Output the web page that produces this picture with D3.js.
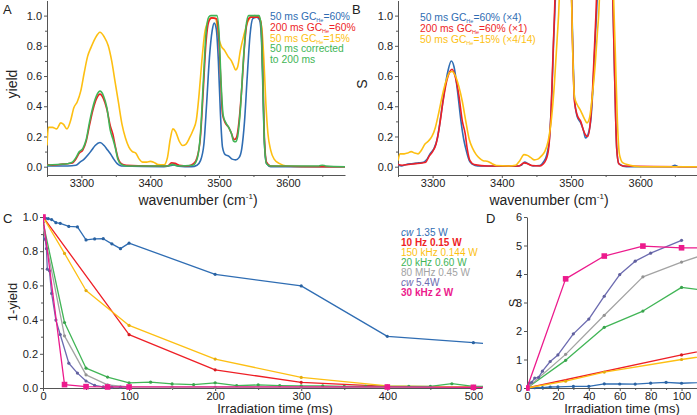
<!DOCTYPE html>
<html><head><meta charset="utf-8">
<script src="https://cdn.jsdelivr.net/npm/d3@7"></script>
<style>body{margin:0;background:#fff} text{font-family:"Liberation Sans",Arial,Helvetica,sans-serif}</style>
</head><body><svg id="c" width="697" height="415"></svg>
<script>
// ---------- DATA ----------
const colors = {blue:"#2f6db3", red:"#ee1f26", yellow:"#fdbf12", green:"#41b556", gray:"#a3a3a3", purple:"#6c6bb0", magenta:"#ec1a8c"};

// Panel A: yield vs wavenumber
const aYellow = [[3250,0.14],[3252,0.26],[3258,0.26],[3264,0.25],[3270,0.29],[3274,0.28],[3279,0.25],[3284,0.30],[3289,0.39],[3294,0.43],[3299,0.50],[3304,0.62],[3309,0.73],[3314,0.79],[3320,0.85],[3327,0.89],[3333,0.86],[3339,0.80],[3344,0.70],[3349,0.56],[3354,0.42],[3359,0.28],[3364,0.19],[3369,0.13],[3374,0.10],[3379,0.09],[3384,0.05],[3389,0.03],[3395,0.03],[3400,0.035],[3405,0.03],[3411,0.015],[3420,0.012],[3425,0.06],[3429,0.18],[3433,0.25],[3437,0.23],[3442,0.17],[3447,0.14],[3452,0.15],[3457,0.19],[3462,0.24],[3467,0.31],[3471,0.48],[3475,0.70],[3479,0.88],[3484,0.96],[3490,0.985],[3495,0.98],[3499,0.86],[3503,0.80],[3508,0.77],[3513,0.73],[3518,0.70],[3521,0.67],[3524,0.64],[3527,0.66],[3531,0.77],[3536,0.87],[3541,0.95],[3546,0.99],[3552,1.0],[3558,0.99],[3562,0.92],[3565,0.72],[3568,0.42],[3571,0.22],[3575,0.11],[3580,0.05],[3588,0.02],[3598,0.005],[3620,0.0],[3683,0.0]];
const aBlue = [[3250,0.005],[3280,0.005],[3292,0.01],[3298,0.03],[3304,0.05],[3310,0.08],[3315,0.11],[3320,0.14],[3327,0.16],[3333,0.14],[3338,0.11],[3343,0.08],[3347,0.05],[3352,0.02],[3358,0.005],[3420,0.0],[3430,0.008],[3435,0.012],[3441,0.004],[3460,0.0],[3468,0.01],[3473,0.04],[3478,0.15],[3482,0.42],[3486,0.72],[3490,0.90],[3493,0.95],[3496,0.91],[3499,0.70],[3502,0.35],[3505,0.13],[3509,0.08],[3514,0.07],[3519,0.05],[3524,0.045],[3529,0.06],[3533,0.12],[3537,0.30],[3541,0.60],[3545,0.87],[3549,0.98],[3555,0.99],[3559,0.97],[3562,0.80],[3564,0.45],[3566,0.15],[3569,0.02],[3575,0.0],[3683,0.0]];
const aRed = [[3250,0.015],[3258,0.01],[3268,0.015],[3280,0.02],[3287,0.025],[3292,0.05],[3297,0.09],[3302,0.11],[3307,0.17],[3312,0.28],[3317,0.38],[3322,0.45],[3327,0.48],[3332,0.45],[3337,0.38],[3342,0.27],[3346,0.21],[3349,0.14],[3353,0.06],[3358,0.02],[3365,0.01],[3400,0.005],[3425,0.005],[3431,0.025],[3436,0.022],[3442,0.01],[3455,0.005],[3463,0.02],[3468,0.06],[3473,0.20],[3477,0.50],[3481,0.82],[3485,0.96],[3489,0.985],[3496,0.98],[3499,0.90],[3502,0.62],[3505,0.35],[3509,0.29],[3514,0.26],[3518,0.22],[3522,0.18],[3525,0.19],[3529,0.30],[3533,0.52],[3537,0.80],[3541,0.96],[3546,0.99],[3557,0.99],[3561,0.95],[3564,0.55],[3566,0.18],[3569,0.03],[3575,0.005],[3683,0.0]];
const aGreen = [[3250,0.01],[3265,0.015],[3280,0.02],[3287,0.03],[3292,0.06],[3297,0.10],[3302,0.12],[3307,0.18],[3312,0.30],[3317,0.40],[3322,0.47],[3327,0.50],[3332,0.47],[3337,0.39],[3342,0.24],[3346,0.18],[3349,0.13],[3353,0.05],[3358,0.015],[3365,0.005],[3425,0.005],[3432,0.015],[3440,0.005],[3462,0.01],[3468,0.05],[3473,0.22],[3477,0.55],[3481,0.88],[3485,0.99],[3488,1.0],[3497,1.0],[3500,0.88],[3503,0.55],[3506,0.34],[3510,0.29],[3514,0.26],[3518,0.22],[3521,0.17],[3524,0.165],[3527,0.20],[3531,0.38],[3535,0.68],[3539,0.92],[3543,1.0],[3558,1.0],[3561,0.94],[3564,0.50],[3566,0.15],[3569,0.02],[3575,0.005],[3645,0.005],[3650,0.01],[3655,0.005],[3683,0.0]];

// Panel B: S vs wavenumber (scaled)
const bBlue = [[3250,0.01],[3255,0.005],[3262,0.015],[3270,0.02],[3280,0.025],[3287,0.03],[3292,0.05],[3297,0.09],[3302,0.12],[3307,0.19],[3312,0.34],[3317,0.50],[3322,0.63],[3327,0.70],[3331,0.66],[3336,0.50],[3341,0.30],[3345,0.18],[3349,0.10],[3353,0.04],[3358,0.015],[3365,0.005],[3420,0.003],[3428,0.01],[3433,0.03],[3438,0.02],[3445,0.005],[3455,0.008],[3460,0.03],[3465,0.08],[3469,0.2],[3472,0.45],[3475,0.85],[3478,1.2],[3481,1.8],[3498,1.8],[3500,1.3],[3502,0.9],[3505,0.45],[3509,0.33],[3514,0.29],[3518,0.24],[3521,0.19],[3525,0.22],[3529,0.33],[3532,0.55],[3535,0.85],[3538,1.15],[3541,1.8],[3557,1.8],[3560,1.2],[3563,0.6],[3566,0.12],[3569,0.02],[3580,0.0],[3645,0.0],[3650,0.01],[3655,0.0],[3682,0.0]];
const bRed = [[3250,0.015],[3256,0.01],[3265,0.015],[3275,0.02],[3285,0.025],[3290,0.03],[3295,0.07],[3300,0.10],[3305,0.15],[3310,0.27],[3315,0.43],[3320,0.56],[3325,0.63],[3328,0.645],[3333,0.59],[3338,0.47],[3343,0.30],[3347,0.22],[3350,0.12],[3354,0.04],[3360,0.015],[3380,0.005],[3425,0.005],[3432,0.025],[3437,0.02],[3443,0.008],[3455,0.005],[3462,0.03],[3467,0.10],[3471,0.35],[3474,0.75],[3477,1.15],[3480,1.8],[3498,1.8],[3500,1.3],[3502,0.85],[3505,0.43],[3509,0.34],[3514,0.30],[3518,0.24],[3521,0.21],[3524,0.20],[3528,0.30],[3531,0.50],[3534,0.80],[3537,1.15],[3540,1.8],[3557,1.8],[3560,1.2],[3563,0.6],[3566,0.12],[3569,0.02],[3575,0.005],[3682,0.0]];
const bYellow = [[3250,0.04],[3253,0.085],[3259,0.085],[3264,0.09],[3269,0.10],[3274,0.09],[3279,0.085],[3284,0.11],[3289,0.15],[3294,0.17],[3299,0.20],[3304,0.26],[3309,0.36],[3314,0.47],[3319,0.56],[3324,0.62],[3328,0.63],[3333,0.60],[3338,0.53],[3343,0.43],[3348,0.30],[3353,0.18],[3358,0.12],[3363,0.08],[3368,0.055],[3373,0.04],[3380,0.035],[3386,0.02],[3392,0.008],[3410,0.005],[3420,0.01],[3426,0.04],[3432,0.08],[3437,0.075],[3442,0.06],[3447,0.045],[3452,0.05],[3457,0.07],[3462,0.10],[3467,0.17],[3472,0.33],[3476,0.55],[3480,0.85],[3483,1.12],[3486,1.8],[3498,1.8],[3500,1.3],[3502,0.85],[3505,0.46],[3509,0.41],[3514,0.37],[3519,0.32],[3523,0.29],[3527,0.33],[3531,0.48],[3535,0.68],[3538,0.88],[3541,1.12],[3544,1.8],[3558,1.8],[3561,1.2],[3564,0.75],[3567,0.30],[3570,0.08],[3575,0.025],[3585,0.01],[3600,0.0],[3682,0.0]];

// Panel C: 1-yield vs irradiation time (ms)
const cBlue = [[0,1.0],[3,0.992],[6,0.99],[10,0.985],[15,0.967],[20,0.963],[30,0.945],[40,0.942],[50,0.866],[60,0.872],[70,0.873],[80,0.843],[90,0.815],[100,0.847],[200,0.665],[300,0.597],[400,0.302],[500,0.265],[520,0.258]];
const cRed = [[0,1.0],[100,0.312],[200,0.106],[300,0.033],[400,0.01],[500,0.006],[520,0.005]];
const cYellow = [[0,1.0],[25,0.787],[50,0.57],[100,0.366],[200,0.169],[300,0.062],[400,0.012],[500,0.005],[520,0.005]];
const cGreen = [[0,0.97],[25,0.383],[50,0.116],[75,0.064],[100,0.03],[125,0.034],[150,0.024],[175,0.02],[200,0.03],[225,0.014],[250,0.018],[275,0.014],[300,0.012],[325,0.012],[350,0.01],[375,0.01],[400,0.01],[425,0.01],[450,0.01],[475,0.025],[500,0.01],[520,0.008]];
const cGray = [[0,0.94],[25,0.305],[50,0.077],[75,0.018],[100,0.006],[150,0.005],[200,0.005],[300,0.004],[400,0.004],[500,0.004],[520,0.004]];
const cPurple = [[0,0.878],[2.5,0.87],[4,0.815],[5,0.695],[7.5,0.685],[10,0.553],[15,0.397],[20,0.313],[30,0.145],[40,0.087],[50,0.041],[60,0.015],[70,0.006],[80,0.005],[90,0.005],[100,0.005]];
const cMagenta = [[0,1.0],[25,0.02],[50,0.008],[75,0.006],[100,0.006],[400,0.006],[500,0.004],[520,0.004]];

// Panel D: S vs irradiation time (ms)
const dBlue = [[0,0],[5,0.01],[10,0.015],[15,0.035],[20,0.037],[30,0.055],[40,0.06],[50,0.145],[60,0.14],[70,0.136],[80,0.17],[90,0.2],[100,0.166],[200,0.41]];
const dRed = [[0,0],[100,1.16],[200,2.25]];
const dYellow = [[0,0],[25,0.24],[50,0.56],[100,1.0],[200,1.78]];
const dGreen = [[0,0],[25,0.97],[50,2.13],[75,2.7],[100,3.53],[125,3.35]];
const dGray = [[0,0],[25,1.18],[50,2.55],[75,3.9],[100,4.42],[150,5.3]];
const dPurple = [[0,0],[1.5,0.17],[3,0.2],[5,0.35],[7.5,0.37],[10,0.59],[15,0.93],[20,1.16],[30,1.9],[40,2.42],[50,3.22],[60,3.98],[70,4.45],[80,4.73],[100,5.18]];
const dMagenta = [[0,0],[25,3.83],[50,4.63],[75,4.98],[100,4.92],[400,4.92]];

// tick labels
const specTicks = [3300,3400,3500,3600];
const specMinor = [3250,3350,3450,3550,3650];
const yieldTicks = [0,0.2,0.4,0.6,0.8,1.0];
const yieldMinor = [0.1,0.3,0.5,0.7,0.9];
const timeTicksC = [0,100,200,300,400,500];
const timeMinorC = [50,150,250,350,450];
const timeTicksD = [0,20,40,60,80,100];
const timeMinorD = [10,30,50,70,90];
const sTicksD = [0,1,2,3,4,5,6];

const legendA = [["50 ms GC","He","=60%",colors.blue],["200 ms GC","He","=60%",colors.red],["50 ms GC","He","=15%",colors.yellow],["50 ms corrected","","",colors.green],["to 200 ms","","",colors.green]];
const legendB = [["50 ms GC","He","=60% (\u00d74)",colors.blue],["200 ms GC","He","=60% (\u00d71)",colors.red],["50 ms GC","He","=15% (\u00d74/14)",colors.yellow]];
const legendC = [["cw"," 1.35 W",colors.blue,false],["","10 Hz 0.15 W",colors.red,true],["","150 kHz 0.144 W",colors.yellow,false],["","20 kHz 0.60 W",colors.green,false],["","80 MHz 0.45 W",colors.gray,false],["cw"," 5.4W",colors.purple,false],["","30 kHz 2 W",colors.magenta,true]];

// ---------- DRAW ----------
const svg = d3.select("#c");
const axisCol = "#555", txtCol = "#222";

function drawAxes(x, y, xAxisY, yAxisX, xMajor, xMinor, yMajor, yMinor, xFmt, yFmt) {
  const gx = svg.append("g").attr("transform", `translate(0,${xAxisY})`)
    .call(d3.axisBottom(x).tickValues(xMajor).tickFormat(xFmt).tickSize(3).tickPadding(1).tickSizeOuter(0));
  const gxm = svg.append("g").attr("transform", `translate(0,${xAxisY})`)
    .call(d3.axisBottom(x).tickValues(xMinor).tickFormat("").tickSize(2));
  gxm.select(".domain").remove();
  const gy = svg.append("g").attr("transform", `translate(${yAxisX},0)`)
    .call(d3.axisLeft(y).tickValues(yMajor).tickFormat(yFmt).tickSize(3).tickPadding(2).tickSizeOuter(0));
  if (yMinor) {
    const gym = svg.append("g").attr("transform", `translate(${yAxisX},0)`)
      .call(d3.axisLeft(y).tickValues(yMinor).tickFormat("").tickSize(2));
    gym.select(".domain").remove();
  }
  svg.selectAll(".domain").attr("stroke", axisCol);
  svg.selectAll(".tick line").attr("stroke", axisCol);
  [gx, gy].forEach(g => g.selectAll("text").attr("font-size", 11).attr("fill", txtCol)
    .attr("font-family", '"Liberation Sans",Arial,sans-serif'));
}

let clipId = 0;
function clip(x0, y0, w, h) {
  const id = "clip" + (clipId++);
  svg.append("clipPath").attr("id", id).append("rect").attr("x", x0).attr("y", y0).attr("width", w).attr("height", h);
  return `url(#${id})`;
}

function drawLine(g, x, y, data, color, curve, width) {
  g.append("path").datum(data)
    .attr("fill", "none").attr("stroke", color).attr("stroke-width", width || 1.6)
    .attr("stroke-linejoin", "round")
    .attr("d", d3.line().x(d => x(d[0])).y(d => y(d[1])).curve(curve || d3.curveLinear));
}
function drawMarkers(g, x, y, data, color, square) {
  if (square) {
    g.selectAll(null).data(data).enter().append("rect")
      .attr("x", d => x(d[0]) - 2.8).attr("y", d => y(d[1]) - 2.8).attr("width", 5.6).attr("height", 5.6).attr("fill", color);
  } else {
    g.selectAll(null).data(data).enter().append("circle")
      .attr("cx", d => x(d[0])).attr("cy", d => y(d[1])).attr("r", 1.6).attr("fill", d3.color(color).darker(0.3));
  }
}

function label(x, y, txt, size, opts = {}) {
  const t = svg.append("text").attr("x", x).attr("y", y).attr("font-size", size).attr("fill", txtCol)
    .attr("text-anchor", opts.anchor || "start");
  if (opts.rotate) t.attr("transform", `rotate(-90,${x},${y})`);
  return t.text(txt);
}
function wavTitle(cx, y) {
  const t = svg.append("text").attr("x", cx).attr("y", y).attr("font-size", 14).attr("fill", txtCol).attr("text-anchor", "middle");
  t.append("tspan").text("wavenumber (cm");
  t.append("tspan").text("-1").attr("font-size", 8).attr("dy", -6);
  t.append("tspan").text(")").attr("dy", 6);
}
function gcLegend(x0, y0, rows, dy) {
  rows.forEach((r, i) => {
    const t = svg.append("text").attr("x", x0).attr("y", y0 + i * dy).attr("font-size", 10.3).attr("fill", r[3]);
    t.append("tspan").text(r[0]);
    if (r[1]) {
      t.append("tspan").text(r[1]).attr("font-size", 5.5).attr("dy", 2);
      t.append("tspan").text(r[2]).attr("dy", -2);
    }
  });
}

// ---- Panel A ----
const xA = d3.scaleLinear().domain([3250, 3683]).range([47, 345]);
const yAB = d3.scaleLinear().domain([-0.055, 1.1]).range([175, 0.5]);
drawAxes(xA, yAB, 175, 47, specTicks, specMinor, yieldTicks, yieldMinor, d3.format("d"), d3.format(".1f"));
const gA = svg.append("g").attr("clip-path", clip(47, 0, 298, 175));
[[aYellow, colors.yellow], [aBlue, colors.blue], [aRed, colors.red], [aGreen, colors.green]]
  .forEach(s => drawLine(gA, xA, yAB, s[0], s[1], d3.curveMonotoneX, 1.6));
gcLegend(270, 20, legendA, 10.8);
label(17, 84, "yield", 14, {anchor: "middle", rotate: true});
wavTitle(198, 205);
label(3, 14, "A", 13);

// ---- Panel B ----
const xB = d3.scaleLinear().domain([3250, 3682]).range([398, 697]);
drawAxes(xB, yAB, 175, 398, specTicks, specMinor, yieldTicks, yieldMinor, d3.format("d"), d3.format(".1f"));
const gB = svg.append("g").attr("clip-path", clip(398, 0, 299, 175));
[[bBlue, colors.blue], [bRed, colors.red], [bYellow, colors.yellow]]
  .forEach(s => drawLine(gB, xB, yAB, s[0], s[1], d3.curveMonotoneX, 1.6));
gcLegend(420, 21, legendB, 10.8);
label(367, 84, "S", 14, {anchor: "middle", rotate: true});
wavTitle(549, 205);
label(352, 14, "B", 13);

// ---- Panel C ----
const xC = d3.scaleLinear().domain([0, 510]).range([43, 482]);
const yC = d3.scaleLinear().domain([0, 1]).range([388, 217]);
drawAxes(xC, yC, 388, 43, timeTicksC, timeMinorC, yieldTicks, yieldMinor, d3.format("d"), d3.format(".1f"));
const gC = svg.append("g").attr("clip-path", clip(43, 205, 440, 186));
const cSeries = [[cBlue, colors.blue], [cRed, colors.red], [cYellow, colors.yellow], [cGreen, colors.green], [cGray, colors.gray], [cPurple, colors.purple], [cMagenta, colors.magenta, true]];
cSeries.forEach(s => { drawLine(gC, xC, yC, s[0], s[1], d3.curveLinear, 1.3); drawMarkers(gC, xC, yC, s[0], s[1], s[2]); });
legendC.forEach((r, i) => {
  const t = svg.append("text").attr("x", 401).attr("y", 236 + i * 10).attr("font-size", 10).attr("fill", r[2])
    .attr("font-weight", r[3] ? "bold" : "normal");
  if (r[0]) t.append("tspan").text(r[0]).attr("font-style", "italic");
  t.append("tspan").text(r[1]);
});
label(17, 302, "1-yield", 13, {anchor: "middle", rotate: true});
label(275, 413, "Irradiation time (ms)", 13, {anchor: "middle"});
label(3, 223, "C", 13);

// ---- Panel D ----
const xD = d3.scaleLinear().domain([0, 110]).range([527, 697]);
const yD = d3.scaleLinear().domain([0, 6]).range([388, 217]);
drawAxes(xD, yD, 388, 527, timeTicksD, timeMinorD, sTicksD, null, d3.format("d"), d3.format("d"));
const gD = svg.append("g").attr("clip-path", clip(526, 205, 171, 186));
const dSeries = [[dBlue, colors.blue], [dRed, colors.red], [dYellow, colors.yellow], [dGreen, colors.green], [dGray, colors.gray], [dPurple, colors.purple], [dMagenta, colors.magenta, true]];
dSeries.forEach(s => { drawLine(gD, xD, yD, s[0], s[1], d3.curveLinear, 1.3); drawMarkers(gD, xD, yD, s[0], s[1], s[2]); });
label(518, 303, "S", 13, {anchor: "middle", rotate: true});
label(622, 413, "Irradiation time (ms)", 13, {anchor: "middle"});
label(486, 223, "D", 13);
</script></body></html>
